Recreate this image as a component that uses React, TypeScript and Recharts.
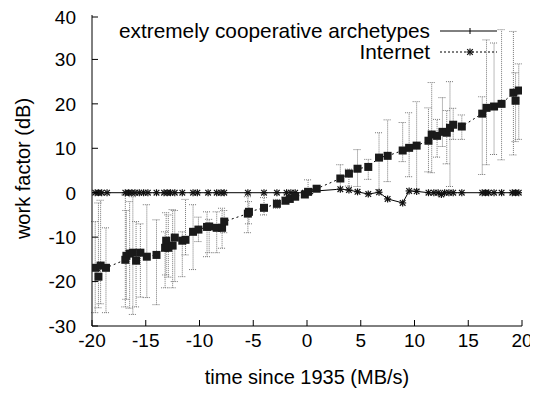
import React from "react";
import { LineChart, Line, XAxis, YAxis, ErrorBar, Legend } from "recharts";

const xTicks = [-20, -15, -10, -5, 0, 5, 10, 15, 20];
const yTicks = [-30, -20, -10, 0, 10, 20, 30, 40];

// extremely cooperative archetypes
const coopX = [
  -19.7, -19.4, -19.1, -18.6, -16.9, -16.6, -16.3, -16.0, -15.6, -15.2, -14.8,
  -14.0, -13.3, -13.0, -12.7, -12.3, -11.6, -10.6, -10.2, -9.2, -8.4, -8.0,
  -7.7, -5.5, -4.0, -2.8, -1.9, -1.5, -1.1, -0.2, 0.3, 3.1, 3.9, 4.7, 5.7, 6.7,
  7.5, 8.9, 9.5, 10.2, 11.3, 11.8, 12.2, 12.5, 12.8, 13.2, 13.6, 14.4, 16.3,
  16.6, 16.9, 17.4, 18.1, 19.1, 19.4, 19.7,
];
const coopY = [
  0, 0, 0, 0, 0, 0, 0, 0, 0, 0, 0, 0, 0, 0, 0, 0, 0, 0, 0, 0, 0, 0, 0, 0, 0, 0,
  0, 0, 0, 0, 0.3, 0.8, 0.6, 0.2, -0.3, 0.1, -1.4, -2.3, 0.4, 0.3, 0, 0, 0,
  -0.4, 0, 0, 0, 0, 0, 0, 0, 0, 0, 0, 0, 0,
];

// Internet
const netX = [
  -19.7, -19.4, -19.2, -18.7, -16.9, -16.8, -16.5, -16.2, -15.9, -15.5, -14.9,
  -14.0, -13.2, -13.1, -12.9, -12.5, -12.3, -11.6, -11.3, -10.6, -10.1, -9.3,
  -9.1, -8.4, -7.9, -7.7, -5.5, -5.4, -4.0, -2.8, -2.0, -1.6, -1.1, -0.2, 0.1,
  0.9, 3.1, 3.9, 4.7, 5.7, 6.7, 7.5, 8.9, 9.5, 10.2, 11.3, 11.6, 12.1, 12.6,
  13.0, 13.3, 13.6, 14.4, 16.3, 16.7, 17.4, 18.1, 19.2, 19.4, 19.7,
];
const netY = [
  -16.9, -18.9, -16.4, -16.9, -15.1, -14.2, -13.7, -13.5, -15.3, -13.5, -14.4,
  -14.0, -12.4, -10.8, -12.4, -11.9, -10.1, -10.8, -10.6, -8.8, -8.3, -7.7,
  -7.6, -7.9, -7.9, -6.5, -4.7, -4.3, -3.4, -2.5, -1.8, -1.4, -0.9, -0.4, 0.2,
  0.9, 3.2, 4.3, 5.4, 5.8, 7.9, 8.3, 9.5, 10.1, 10.6, 11.7, 13.1, 12.8, 13.7,
  13.5, 14.6, 15.3, 14.9, 17.8, 19.1, 19.4, 20.0, 22.5, 20.7, 23.0,
];
const netLow = [
  -27, -25.9, -25, -27, -25.7, -24, -26, -27.4, -25.7, -23.5, -23.6, -25.2,
  -21.4, -18.5, -19, -21.4, -20, -18.9, -14, -17.3, -11, -14.4, -13.5, -13.5,
  -12.5, -9, -9, -7, -5, -3.5, -2.5, -2, -1.5, -1, -0.5, 0.3, 0.7, 1.5, 1.4, 3,
  0.7, 2.5, 7, 3.6, 0.7, 4.7, 4.5, 8, 10.4, 6.5, 1.4, 12, 12, 4.1, 6.3, 8.6,
  7.4, 8.5, 11.5, 12,
];
const netHigh = [
  -6.5, -2.3, -1.7, -7.9, -0.5, -4, -2, -0.9, -6.5, -7, -2.7, -6.1, -8.8, -4.5,
  -5, -3.8, -4, -8.8, -1.5, -2.7, -5.5, -4.3, -6, -4.3, -3.5, -4, -0.9, -2,
  -1.1, -1.5, -1, -0.8, -0.4, 0.2, 2.9, 1.5, 6.3, 5.3, 9.7, 7.5, 13.5, 16.4,
  15.8, 18, 20.5, 19.1, 24.8, 16.5, 21.4, 18.5, 25, 19, 17.5, 21.6, 34.4, 33.7,
  36.7, 36.3, 27, 29,
];

const coopData = coopX.map((x, i) => ({ x, y: coopY[i] }));
const netData = netX.map((x, i) => ({
  x,
  y: netY[i],
  err: [netY[i] - netLow[i], netHigh[i] - netY[i]],
}));

const FONT = "'Liberation Sans', Arial, Helvetica, sans-serif";
const FS = 19;
const FS_TEXT = 20;
const FS_LEGEND = 20.8;
const TICK = 6;

const BottomTick = ({ x, y, payload }: any) => (
  <g>
    <line x1={x} x2={x} y1={y} y2={y - TICK} stroke="#000" />
    <text x={x} y={y + 21} textAnchor="middle" fontFamily={FONT} fontSize={FS} fill="#000">
      {payload.value}
    </text>
  </g>
);
const TopTick = ({ x, y }: any) => (
  <line x1={x} x2={x} y1={y} y2={y + TICK} stroke="#000" />
);
const LeftTick = ({ x, y, payload }: any) => (
  <g>
    <line x1={x} x2={x + TICK} y1={y} y2={y} stroke="#000" />
    <text x={x - 16} y={y} dy="0.36em" textAnchor="end" fontFamily={FONT} fontSize={FS} fill="#000">
      {payload.value}
    </text>
  </g>
);
const RightTick = ({ x, y }: any) => (
  <line x1={x} x2={x - TICK} y1={y} y2={y} stroke="#000" />
);

const SquareDot = ({ cx, cy }: any) => (
  <rect x={cx - 4} y={cy - 4} width={8} height={8} fill="#1a1a1a" />
);
const StarDot = ({ cx, cy }: any) => (
  <g stroke="#111" strokeWidth={1.2}>
    <line x1={cx - 3.5} x2={cx + 3.5} y1={cy} y2={cy} />
    <line x1={cx} x2={cx} y1={cy - 3.5} y2={cy + 3.5} />
    <line x1={cx - 2.8} x2={cx + 2.8} y1={cy - 2.8} y2={cy + 2.8} />
    <line x1={cx - 2.8} x2={cx + 2.8} y1={cy + 2.8} y2={cy - 2.8} />
  </g>
);

const renderLegend = () => (
  <svg width={530} height={60} style={{ display: "block" }}>
    <g fontFamily={FONT} fontSize={FS_LEGEND} fill="#000">
      <text x={422} y={30} textAnchor="end">
        extremely cooperative archetypes
      </text>
      <text x={422} y={51} textAnchor="end">
        Internet
      </text>
    </g>
    <line x1={432} x2={489} y1={23} y2={23} stroke="#000" />
    <line x1={462} x2={462} y1={20} y2={26} stroke="#000" />
    <line x1={432} x2={489} y1={44} y2={44} stroke="#000" strokeDasharray="2 2" />
    <StarDot cx={462} cy={44} />
  </svg>
);

export default function App() {
  return (
    <LineChart
      width={530}
      height={386}
      margin={{ top: 7, right: 16, left: 0, bottom: 0 }}
      style={{ fontFamily: FONT }}
    >
      <XAxis
        xAxisId={0}
        type="number"
        dataKey="x"
        domain={[-20, 20]}
        ticks={xTicks}
        allowDataOverflow
        height={68}
        tickSize={0}
        tickMargin={0}
        tick={BottomTick}
        axisLine={{ stroke: "#000" }}
        label={{
          content: ({ viewBox }: any) => (
            <text
              x={viewBox.x + viewBox.width / 2}
              y={viewBox.y + 58}
              textAnchor="middle"
              fontFamily={FONT}
              fontSize={FS_TEXT}
              fill="#000"
            >
              time since 1935 (MB/s)
            </text>
          ),
        }}
      />
      <XAxis
        xAxisId="top"
        orientation="top"
        type="number"
        domain={[-20, 20]}
        ticks={xTicks}
        allowDataOverflow
        height={0}
        tickSize={0}
        tickMargin={0}
        tick={TopTick}
        axisLine={{ stroke: "#000" }}
      />
      <YAxis
        yAxisId={0}
        type="number"
        domain={[-30, 40]}
        ticks={yTicks}
        allowDataOverflow
        width={84}
        tickSize={0}
        tickMargin={0}
        tick={LeftTick}
        axisLine={{ stroke: "#000" }}
        label={{
          content: ({ viewBox }: any) => {
            const cx = 22;
            const cy = viewBox.y + viewBox.height / 2 - 2;
            return (
              <text
                x={cx}
                y={cy}
                transform={`rotate(-90 ${cx} ${cy})`}
                textAnchor="middle"
                fontFamily={FONT}
                fontSize={FS_TEXT}
                fill="#000"
              >
                work factor (dB)
              </text>
            );
          },
        }}
      />
      <YAxis
        yAxisId="right"
        orientation="right"
        type="number"
        domain={[-30, 40]}
        ticks={yTicks}
        allowDataOverflow
        width={0}
        tickSize={0}
        tickMargin={0}
        tick={RightTick}
        axisLine={{ stroke: "#000" }}
      />
      <Legend
        layout="horizontal"
        verticalAlign="middle"
        align="center"
        content={renderLegend}
        wrapperStyle={{ position: "absolute", top: 0, left: 0, width: 530, height: 60 }}
      />
      <Line
        data={coopData}
        dataKey="y"
        name="extremely cooperative archetypes"
        stroke="#000"
        strokeWidth={1}
        dot={StarDot}
        isAnimationActive={false}
      />
      <Line
        data={netData}
        dataKey="y"
        name="Internet"
        stroke="#000"
        strokeWidth={1}
        strokeDasharray="2 3"
        dot={SquareDot}
        isAnimationActive={false}
      >
        <ErrorBar
          dataKey="err"
          direction="y"
          width={4}
          stroke="#777"
          strokeWidth={1}
          strokeDasharray="1 1"
          isAnimationActive={false}
        />
      </Line>
    </LineChart>
  );
}
